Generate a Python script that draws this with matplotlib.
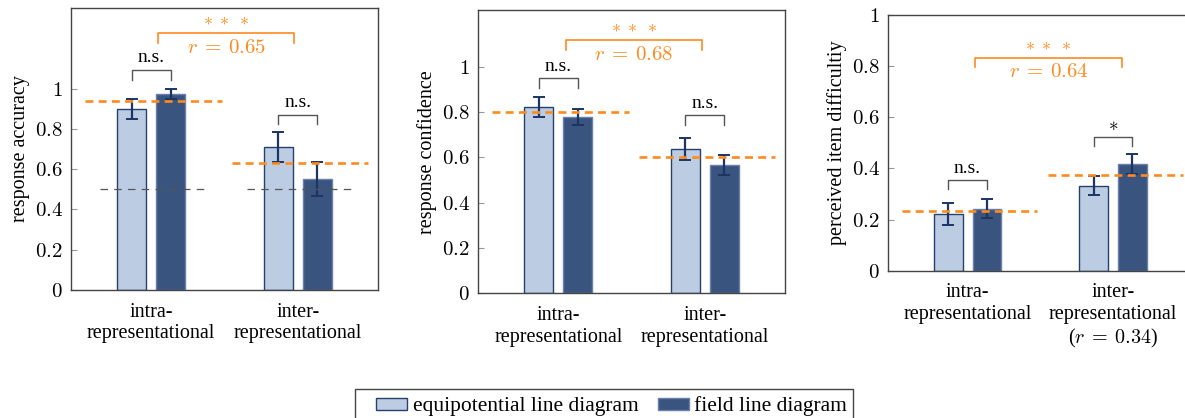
import numpy as np
import matplotlib.pyplot as plt
from matplotlib.patches import Rectangle

# fonts: Times-like text, Computer Modern maths
plt.rcParams['font.family'] = ['Liberation Serif', 'DejaVu Serif']
plt.rcParams['mathtext.fontset'] = 'cm'
plt.rcParams['font.size'] = 14

# data
groups = ['intra-\nrepresentational', 'inter-\nrepresentational']
series_names = ['equipotential line diagram', 'field line diagram']
ylabels = ['response accuracy', 'response confidence', 'perceived item difficultiy']

acc_equi = [0.897, 0.711]
acc_equi_err = [0.050, 0.075]
acc_field = [0.975, 0.552]
acc_field_err = [0.025, 0.083]
acc_mean = [0.937, 0.632]

conf_equi = [0.821, 0.638]
conf_equi_err = [0.043, 0.048]
conf_field = [0.779, 0.565]
conf_field_err = [0.035, 0.044]
conf_mean = [0.801, 0.601]

diff_equi = [0.222, 0.333]
diff_equi_err = [0.043, 0.038]
diff_field = [0.243, 0.416]
diff_field_err = [0.037, 0.039]
diff_mean = [0.232, 0.374]

chance = 0.5
pair_sig = [['n.s.', 'n.s.'], ['n.s.', 'n.s.'], ['n.s.', '$\\ast$']]
pair_y = [[1.094, 0.871], [0.949, 0.787], [0.353, 0.524]]
group_sig = '$\\ast\\;\\ast\\;\\ast$'
group_r = ['$r\\:=\\:0.65$', '$r\\:=\\:0.68$', '$r\\:=\\:0.64$']
group_y = [1.275, 1.117, 0.833]
group_x = [(0.048, 0.973), (0.052, 0.977), (0.05, 1.064)]
ylims = [1.4, 1.25, 1.0]
inter_note = '($r\\:=\\:0.34$)'

light = '#bccde3'
dark = '#3a5480'
orange = '#ff8a1f'
navy = '#1d3563'
grey = '#555555'

fig = plt.figure(figsize=(11.85, 4.18), dpi=100)
positions = [[0.0599, 0.3062, 0.2591, 0.6746],
             [0.4036, 0.2983, 0.2588, 0.6778],
             [0.7496, 0.3524, 0.2565, 0.6117]]

panels = [(acc_equi, acc_equi_err, acc_field, acc_field_err, acc_mean),
          (conf_equi, conf_equi_err, conf_field, conf_field_err, conf_mean),
          (diff_equi, diff_equi_err, diff_field, diff_field_err, diff_mean)]

x = np.arange(len(groups))
off = 0.133
w = 0.197

for i, (e, ee, f, fe, m) in enumerate(panels):
    ax = fig.add_axes(positions[i])
    b1 = ax.bar(x - off, e, w, color=light, edgecolor='#24406f', linewidth=1,
                yerr=ee, ecolor=navy, capsize=4, error_kw={'elinewidth': 1.6, 'capthick': 1.4}, zorder=2)
    b2 = ax.bar(x + off, f, w, color=dark, edgecolor='#6880aa', linewidth=1,
                yerr=fe, ecolor=navy, capsize=4, error_kw={'elinewidth': 1.6, 'capthick': 1.4}, zorder=2)

    # overall means per group
    for j in range(len(groups)):
        ax.plot([x[j] - 0.45, x[j] + 0.48], [m[j], m[j]], color=orange, lw=1.9,
                ls=(0, (3, 2)), zorder=4)
        if i == 0:
            ax.plot([x[j] - 0.35, x[j] + 0.37], [chance, chance], color=grey, lw=0.9,
                    ls=(0, (6, 5)), zorder=3)

    # pairwise brackets
    for j in range(len(groups)):
        yb = pair_y[i][j]
        h = 0.035 * ylims[i]
        ax.plot([x[j] - off, x[j] - off, x[j] + off, x[j] + off], [yb - h, yb, yb, yb - h],
                color=grey, lw=1)
        ax.text(x[j], yb + 0.012 * ylims[i], pair_sig[i][j], ha='center', va='bottom', fontsize=14)

    # between-group bracket
    gy = group_y[i]
    h = 0.035 * ylims[i]
    x0, x1 = group_x[i]
    ax.plot([x0, x0, x1, x1], [gy - h, gy, gy, gy - h], color=orange, lw=1.2)
    ax.text((x0 + x1) / 2, gy + 0.015 * ylims[i], group_sig, ha='center', va='bottom',
            color=orange, fontsize=13)
    ax.text((x0 + x1) / 2, gy - 0.02 * ylims[i], group_r[i], ha='center', va='top',
            color=orange, fontsize=15)

    ax.set_xlim(-0.545, 1.545)
    ax.set_ylim(0, ylims[i])
    ticks = [0, 0.2, 0.4, 0.6, 0.8, 1]
    ax.set_yticks(ticks)
    ax.set_yticklabels(['$%g$' % t for t in ticks], fontsize=15)
    ax.tick_params(axis='y', direction='in', length=4, color='#999999', pad=6)
    ax.tick_params(axis='x', length=0, pad=9)
    labels = list(groups)
    if i == 2:
        labels[1] = labels[1] + '\n' + inter_note
    ax.set_xticks(x)
    ax.set_xticklabels(labels, fontsize=14.5)
    for s in ax.spines.values():
        s.set_color('#444444')
        s.set_linewidth(1)
    ax.set_ylabel(ylabels[i], fontsize=14.5)
    ax.yaxis.set_label_coords(-0.135, 0.5)

# legend frame (bottom edge runs off the figure, as in the original)
W, H = 1185, 418
fig.patches.append(Rectangle((355 / W, -0.05), (853 - 355) / W, 0.05 + 1 - 389 / H,
                             transform=fig.transFigure, fill=False, edgecolor='#444444',
                             linewidth=1))
fig.legend([b1, b2], series_names, loc='upper left', bbox_to_anchor=(370 / W, 1 - 390 / H),
           ncol=2, frameon=False, handlelength=1.44, handleheight=0.47, handletextpad=0.25,
           columnspacing=0.9, fontsize=15.5, borderpad=0.3, borderaxespad=0)

plt.savefig('out.png', dpi=100)
